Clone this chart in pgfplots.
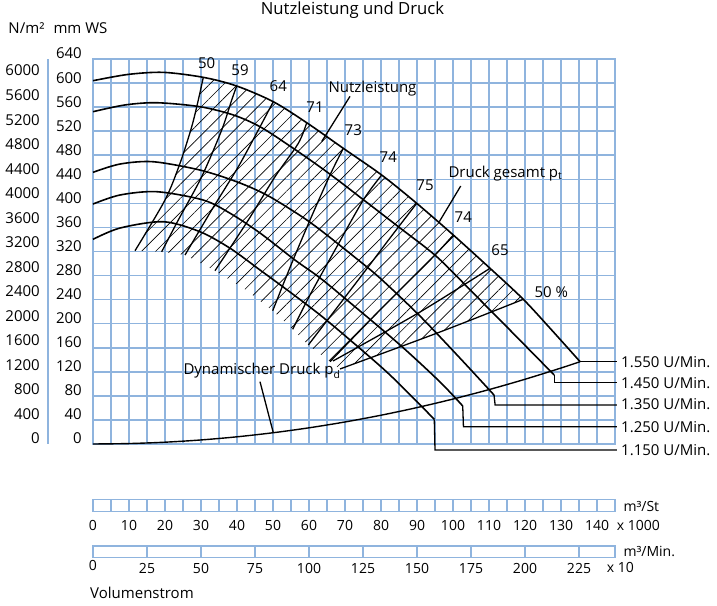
\documentclass[border=0pt]{standalone}
\usepackage{fontspec}
\setmainfont{Open Sans}
\usepackage{pgfplots}
\pgfplotsset{compat=1.18}
\usetikzlibrary{patterns.meta}
\definecolor{gridblue}{RGB}{143,180,222}
\newcommand\lab{\fontsize{15}{18}\selectfont}
\newcommand\sml{\fontsize{14}{16}\selectfont}
\begin{document}
\begin{tikzpicture}
\useasboundingbox (0pt,0pt) rectangle (717pt,605pt);

% ---- N/m2 scale (left) ----
\begin{axis}[at={(47.7pt,161pt)}, anchor=south west, scale only axis,
  width=1pt, height=385pt, xmin=0, xmax=1, ymin=0, ymax=6276.26,
  axis x line=none, axis y line*=left,
  ytick={0,400,...,6000},
  yticklabels={0,400,800,1200,1600,2000,2400,2800,3200,3600,4000,4400,4800,5200,5600,6000},
  y axis line style={gridblue,line width=1.6pt},
  major tick length=0pt,
  yticklabel style={anchor=base east, inner sep=0pt, xshift=-7.7pt, font=\lab}]
\addplot[draw=none] coordinates {(0,0)};
\end{axis}

% ---- main chart ----
\begin{axis}[at={(93pt,161pt)}, anchor=south west, scale only axis,
  width=522pt, height=385pt,
  xmin=0, xmax=145, ymin=0, ymax=640,
  xtick={0,5,...,145}, ytick={0,40,...,640},
  xticklabels={},
  grid=major,
  major grid style={gridblue, line width=1.6pt},
  axis line style={gridblue, line width=1.6pt},
  major tick length=0pt,
  yticklabel style={anchor=base east, inner sep=0pt, xshift=-11pt, font=\lab},
  /pgf/number format/assume math mode=true,
  clip=false]

% hatched region
\addplot[draw=none, pattern={Lines[angle=45,distance=10pt,line width=0.65pt]}, pattern color=black]
 coordinates {(30.64,609.5)(39.92,595.1)(50.08,569.0)(59.36,534.1)(69.53,491.5)(80.19,447.1)
 (89.92,400.1)(100.08,347.4)(110.28,292.1)(119.53,240.5)
 (96.39,186.2)(68.61,124.7)
 (65.83,136.8)(59.81,164.6)(55.47,190.7)(49.92,221.6)(42.5,256.0)(33.89,288.1)(25.56,314.2)(19.08,319.6)(11.67,321.3)
 (20.0,405.6)(24.17,466.6)(27.42,527.4)(29.25,571.8)} -- cycle;

% pressure curves
\addplot[black, line width=1.6pt, smooth] coordinates {(0,603.9)(9.7,614.3)(19.5,617.8)(30.64,609.5)(39.92,595.1)(50.08,569.0)(59.36,534.1)(69.53,491.5)(80.19,447.1)(89.92,400.1)(100.08,347.4)(110.28,292.1)(119.53,240.5)(127.4,189.5)(135.3,136.8)};
\addplot[black, line width=1.6pt, smooth] coordinates {(0,552.4)(8.9,563.6)(17.7,567.3)(29.7,560.7)(39.0,546.9)(46.4,527.4)(54.7,495.3)(63.1,460.4)(68.6,436.0)(75.2,405.6)(85.3,359.0)(95.5,311.3)(105.6,251.0)(115.8,189.5)(128.1,114.7)};
\addplot[black, line width=1.6pt, smooth] coordinates {(0,451.6)(7.5,465.4)(16.75,469.2)(29.7,455.4)(39.9,436.0)(48.25,413.9)(57.5,380)(63.1,356)(72.3,312.5)(79.7,275.9)(90.8,212.8)(101.9,143.0)(111.4,81.4)};
\addplot[black, line width=1.6pt, smooth] coordinates {(0,398.9)(7.5,413.9)(17.7,419.4)(30.6,405.6)(38.1,383.5)(46.4,350.7)(56.1,305.8)(63.1,275.9)(72.2,231.0)(85.3,164.6)(96.4,103.1)(102.7,63.2)};
\addplot[black, line width=1.6pt, smooth] coordinates {(0,340.2)(7.5,359)(19.5,369.5)(29.7,352.9)(38.1,325.3)(46.4,289.2)(54.7,252.7)(63.1,214.4)(71.4,172.9)(82.5,114.7)(94.8,41.1)};

% label leaders for speeds
\addplot[black, line width=1.3pt] coordinates {(135.3,136.8)(145.5,136.8)};
\addplot[black, line width=1.3pt] coordinates {(128.1,114.7)(128.1,101.9)(145.5,101.9)};
\addplot[black, line width=1.3pt] coordinates {(111.4,81.4)(111.7,64.8)(145.5,64.8)};
\addplot[black, line width=1.3pt] coordinates {(102.7,63.2)(102.9,28.8)(145.5,28.8)};
\addplot[black, line width=1.3pt] coordinates {(94.8,41.1)(95.0,-10.0)(145.5,-10.0)};

% efficiency lines
\addplot[black, line width=1.3pt, smooth] coordinates {(30.64,609.5)(29.25,571.8)(27.42,527.4)(24.17,466.6)(20.0,405.6)(11.67,321.3)};
\addplot[black, line width=1.3pt, smooth] coordinates {(39.92,595.1)(38.53,571.8)(35.75,521.9)(30.19,444.3)(23.69,372.3)(19.08,319.6)};
\addplot[black, line width=1.3pt, smooth] coordinates {(50.08,569.0)(45.92,521.9)(40.36,460.9)(32.97,389.0)(25.56,314.2)};
\addplot[black, line width=1.3pt, smooth] coordinates {(59.36,534.1)(57.03,499.8)(50.56,444.3)(43.14,372.3)(33.89,288.1)};
\addplot[black, line width=1.3pt, smooth] coordinates {(69.53,491.5)(65.83,447.1)(60.28,372.3)(55.0,297.5)(49.92,221.6)};
\addplot[black, line width=1.3pt, smooth] coordinates {(80.19,447.1)(75.08,405.6)(67.22,322.5)(60.28,247.7)(55.47,190.7)};
\addplot[black, line width=1.3pt, smooth] coordinates {(89.92,400.1)(82.5,342.4)(75.08,283.7)(59.81,164.6)};
\addplot[black, line width=1.3pt, smooth] coordinates {(100.08,347.4)(94.53,311.3)(79.72,222.7)(65.83,136.8)};
\addplot[black, line width=1.3pt, smooth] coordinates {(110.28,292.1)(90.83,219.4)(66.67,138.0)};
\addplot[black, line width=1.3pt, smooth] coordinates {(119.53,240.5)(96.39,186.2)(68.61,124.7)};

% dynamic pressure
\addplot[black, line width=1.4pt, smooth] coordinates {(0,0)(10,0.75)(20,2.99)(30,6.73)(40,11.96)(50,18.68)(60,26.90)(70,36.62)(80,47.83)(90,60.53)(100,74.73)(110,90.42)(120,107.61)(130,126.29)(135.3,136.8)};

% text leaders
\addplot[black, line width=1.3pt] coordinates {(71.39,577.9)(63.53,502.8)};
\addplot[black, line width=1.3pt] coordinates {(102.14,428.8)(96.19,369.5)};
\addplot[black, line width=1.3pt] coordinates {(46.39,103.6)(50.08,18.8)};
\end{axis}

% ---- bottom scale 1 ----
\begin{axis}[at={(93pt,93.7pt)}, anchor=south west, scale only axis,
  width=522pt, height=12pt, xmin=0, xmax=145, ymin=0, ymax=1,
  xtick={0,10,...,140}, minor xtick={5,15,...,145}, ytick=\empty,
  grid=both,
  major grid style={gridblue,line width=1.6pt},
  minor grid style={gridblue,line width=1.6pt},
  axis line style={gridblue,line width=1.6pt},
  major tick length=0pt, minor tick length=0pt,
  xticklabel style={anchor=base, inner sep=0pt, yshift=-19.4pt, font=\sml},
  /pgf/number format/assume math mode=true]
\addplot[draw=none] coordinates {(0,0)};
\end{axis}

% ---- bottom scale 2 ----
\begin{axis}[at={(93pt,47.7pt)}, anchor=south west, scale only axis,
  width=522pt, height=11.6pt, xmin=0, xmax=241.67, ymin=0, ymax=1,
  xtick={0,25,...,225}, ytick=\empty,
  xticklabels={\raisebox{2.6pt}{0},25,50,75,100,125,150,175,200,225},
  grid=major,
  major grid style={gridblue,line width=1.6pt},
  axis line style={gridblue,line width=1.6pt},
  major tick length=0pt,
  xticklabel style={anchor=base, inner sep=0pt, yshift=-16pt, font=\sml}]
\addplot[draw=none] coordinates {(0,0)};
\end{axis}

% ---- texts ----
\begin{scope}[every node/.style={inner sep=0pt}]
\node[anchor=base, font=\fontsize{16.7}{19}\selectfont] at (352.5pt,590pt) {Nutzleistung und Druck};
\node[anchor=base west, font=\lab] at (8.3pt,571.7pt) {N/m²};
\node[anchor=base west, font=\lab] at (53.3pt,571.7pt) {mm WS};
\node[anchor=base west, font=\lab] at (328.3pt,512.5pt) {Nutzleistung};
\node[anchor=base west, font=\lab] at (448.3pt,427.7pt) {Druck gesamt p\textsubscript{t}};
\node[anchor=base west, font=\lab] at (183.3pt,230pt) {Dynamischer Druck p\textsubscript{d}};
\node[font=\lab] at (206.7pt,541.7pt) {50};
\node[font=\lab] at (240pt,535pt) {59};
\node[font=\lab] at (278.3pt,519pt) {64};
\node[font=\lab] at (315pt,498.3pt) {71};
\node[font=\lab] at (353.3pt,475pt) {73};
\node[font=\lab] at (388.3pt,448.3pt) {74};
\node[font=\lab] at (425pt,419.3pt) {75};
\node[font=\lab] at (463.3pt,388.3pt) {74};
\node[font=\lab] at (500pt,355pt) {65};
\node[font=\lab] at (551.3pt,312.7pt) {50 \%};
\node[anchor=base west, font=\lab] at (621pt,237.7pt) {1.550 U/Min.};
\node[anchor=base west, font=\lab] at (621pt,216pt) {1.450 U/Min.};
\node[anchor=base west, font=\lab] at (621pt,195.7pt) {1.350 U/Min.};
\node[anchor=base west, font=\lab] at (621pt,172.3pt) {1.250 U/Min.};
\node[anchor=base west, font=\lab] at (621pt,149.3pt) {1.150 U/Min.};
\node[anchor=base west, font=\sml] at (623.3pt,93.3pt) {m³/St};
\node[anchor=base west, font=\sml] at (616.7pt,74.3pt) {x 1000};
\node[anchor=base west, font=\sml] at (623.3pt,49pt) {m³/Min.};
\node[anchor=base west, font=\sml] at (606.7pt,32.3pt) {x 10};
\node[anchor=base west, font=\lab] at (90pt,6.7pt) {Volumenstrom};
\end{scope}
\end{tikzpicture}
\end{document}
